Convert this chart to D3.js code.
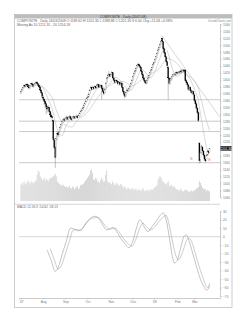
<!DOCTYPE html>
<html>
<head>
<meta charset="utf-8">
<script src="https://cdn.jsdelivr.net/npm/d3@7"></script>
<style>
body { margin: 0; background: #fff; }
svg text { font-family: "Liberation Sans", Arial, sans-serif; }
</style>
</head>
<body>
<svg id="chart" width="247" height="320"></svg>
<script>
// daily bars, 2 Jul 2007 .. 24 Mar 2008 (index = trading day)
var opens = [1360,1366,1371,1378,1384,1380,1387,1385,1379,1375,1382,1389,1386,1380,1386,1390,1393,1388,1384,1379,1370,1362,
  1350,1344,1338,1330,1322,1314,1320,1308,1298,1293,1282,1226,1205,1178,1228,1246,1238,1250,1262,1270,1278,1286,
  1282,1288,1292,1286,1290,1294,1288,1284,1290,1293,1289,1292,1295,1290,1296,1302,1308,1312,1318,1325,1330,1338,
  1345,1350,1358,1368,1378,1372,1378,1374,1380,1376,1384,1385,1378,1381,1383,1374,1366,1360,1372,1390,1405,1412,1414,
  1410,1416,1420,1405,1398,1392,1398,1395,1388,1392,1386,1390,1378,1366,1356,1352,1362,1370,1368,1374,1380,1388,
  1398,1408,1418,1425,1432,1440,1445,1440,1436,1425,1415,1405,1398,1392,1390,1398,1405,1412,1420,1428,1436,
  1445,1450,1458,1466,1476,1486,1494,1502,1520,1510,1490,1478,1466,1452,1436,1405,1390,1398,1404,1410,1414,1416,1414,
  1420,1418,1422,1420,1425,1422,1426,1428,1428,1398,1392,1385,1372,1378,1368,1362,1366,
  1356,1340,1330,1318,1305,1217,1170,1190,1205,1194,1182,1170,1166,1182,1194,1189.62];
var highs = [1370,1375,1380,1386,1387,1389,1390,1386,1381,1384,1391,1392,1388,1389,1393,1396,1395,1390,1386,1381,1372,1364,
  1356,1348,1340,1334,1325,1326,1322,1310,1304,1297,1284,1232,1210,1236,1252,1250,1252,1266,1274,1282,1290,1290,
  1292,1296,1294,1293,1298,1296,1290,1293,1297,1295,1295,1299,1297,1299,1305,1311,1316,1321,1328,1334,1342,1350,
  1354,1362,1372,1382,1380,1382,1381,1384,1382,1388,1390,1387,1385,1387,1385,1376,1368,1375,1393,1408,1416,1425,1418,
  1420,1425,1422,1408,1401,1402,1400,1397,1396,1394,1394,1392,1380,1368,1360,1366,1374,1373,1378,1384,1392,1402,
  1412,1421,1428,1436,1444,1449,1447,1442,1438,1427,1417,1408,1400,1396,1402,1408,1415,1423,1431,1439,1448,
  1454,1461,1469,1479,1490,1498,1506,1514,1524,1512,1493,1481,1469,1455,1440,1408,1402,1408,1414,1418,1420,1419,1424,
  1423,1426,1425,1429,1427,1430,1432,1430,1430,1402,1395,1388,1382,1380,1372,1370,1368,
  1360,1345,1336,1322,1308,1218,1192,1212,1208,1196,1186,1174,1185,1198,1196,1201.3];
var lows = [1358,1364,1369,1375,1377,1378,1381,1375,1372,1374,1380,1382,1377,1378,1384,1387,1385,1380,1375,1366,1358,1348,
  1338,1326,1318,1300,1305,1312,1302,1294,1288,1284,1224,1198,1145,1176,1224,1234,1236,1248,1258,1266,1275,1278,
  1280,1285,1282,1283,1288,1285,1280,1282,1288,1286,1287,1290,1287,1289,1294,1300,1305,1310,1316,1322,1328,1336,
  1342,1348,1356,1366,1368,1370,1370,1372,1372,1374,1380,1375,1376,1378,1343,1362,1355,1358,1370,1388,1402,1408,1406,
  1408,1413,1402,1395,1388,1390,1391,1384,1386,1382,1384,1374,1362,1352,1346,1350,1360,1364,1366,1372,1378,1386,
  1396,1406,1415,1422,1430,1437,1436,1432,1422,1411,1401,1394,1388,1386,1388,1396,1403,1410,1418,1426,1434,
  1443,1448,1456,1464,1474,1484,1492,1500,1508,1486,1474,1462,1448,1436,1342,1385,1386,1395,1400,1407,1410,1409,1412,
  1414,1416,1416,1418,1418,1420,1423,1420,1396,1388,1380,1368,1370,1364,1358,1360,1354,
  1336,1325,1314,1300,1278,1158,1160,1186,1190,1178,1165,1160,1164,1180,1185,1188.88];
var closes = [1366,1372,1378,1383,1380,1386,1384,1379,1376,1382,1388,1385,1380,1386,1390,1392,1388,1383,1379,1370,1362,1352,
  1345,1338,1330,1322,1315,1320,1308,1298,1292,1290,1228,1205,1175,1230,1245,1240,1248,1262,1270,1278,1285,1282,
  1288,1292,1286,1290,1294,1288,1284,1290,1293,1289,1292,1295,1290,1296,1302,1308,1312,1318,1325,1330,1338,1345,
  1350,1358,1368,1378,1372,1378,1374,1380,1376,1384,1385,1378,1381,1383,1374,1366,1360,1372,1390,1405,1412,1414,1410,
  1416,1420,1405,1398,1392,1398,1395,1388,1392,1386,1390,1378,1366,1358,1352,1362,1370,1368,1374,1380,1388,1398,
  1408,1418,1425,1432,1440,1445,1440,1436,1425,1415,1405,1398,1392,1390,1398,1405,1412,1420,1428,1436,1445,
  1450,1458,1466,1476,1486,1494,1502,1510,1512,1490,1478,1466,1452,1440,1405,1390,1398,1404,1410,1414,1416,1414,1420,
  1418,1422,1420,1425,1422,1426,1428,1424,1398,1392,1385,1372,1378,1368,1362,1366,1358,
  1340,1330,1318,1305,1282,1166,1188,1206,1194,1182,1170,1165,1182,1194,1189,1201.3];
var volumes = [100,110,95,120,105,100,115,125,110,100,120,115,105,110,125,118,
  160,185,175,150,140,
  125,130,140,120,135,128,118,132,140,138,
  145,150,155,165,150,
  120,110,105,98,92,100,95,90,85,88,
  80,85,92,78,75,88,82,70,78,85,90,72,80,95,100,
  100,105,115,125,130,140,150,160,
  185,190,170,132,128,140,135,120,118,110,125,140,130,115,120,160,185,
  120,110,115,105,100,118,108,95,100,110,102,90,96,105,98,
  85,80,90,75,70,82,78,72,68,74,80,66,70,76,62,68,72,60,64,70,78,66,58,62,70,64,60,68,72,66,
  72,80,85,90,95,
  130,145,150,140,125,115,110,
  105,98,110,120,95,90,100,88,85,92,
  78,72,70,66,62,75,68,60,58,64,70,62,66,58,55,60,64,58,
  60,65,70,75,80,85,
  120,110,95,
  80,75,70,72,60,68,62,58];

var monthIdx = [0, 22, 44, 66, 89, 111, 132, 155, 172];
var monthLabels = ["'07", "Aug", "Sep", "Oct", "Nov", "Dec", "'08", "Feb", "Mar"];
var priceTicks = [1560,1540,1520,1500,1480,1460,1440,1420,1400,1380,1360,1340,1320,1300,1280,1260,1240,1220,1200,1180,1160,1140,1120,1100,1080,1060];
var macdTicks = [30, 20, 10, 0, -10, -20, -30, -40, -50, -60, -70];
var supportLevels = [1342, 1280, 1250, 1160];
var trendFrom = [140, 1526], trendTo = [197.4, 1291];
var maPeriods = [10, 20];
var markIdx = [169, 187], markPrice = [1171, 1168];

// MACD and signal
var macdIdx = [26,30,34,37,41,45,49,53,57,61,65,69,73,78,82,85,88,91,95,99,103,107,111,115,118,122,126,130,134,138,141,144,147,150,152,155,158,162,164,167,170,174,178,182,184,186,187];
var macdVal = [-16,-28,-41,-36,-20,-5,10,9,7,10,17,22,24,20,12,8,9,11,6,-2,-8,-13,-5,12,20,12,6,12,18,25,28,20,0,-22,-31,-28,-15,1,2,-6,-18,-35,-50,-60,-63,-61,-55];
var signalIdx = [29,33,37,40,44,48,52,56,60,63,67,72,76,81,85,89,93,97,101,106,110,114,118,121,125,129,133,137,141,144,147,150,153,156,159,162,165,167,170,173,177,181,185,187];
var signalVal = [-14,-27,-38,-34,-20,-5,8,8,8,13,19,22,23,17,11,9,10,6,-1,-8,-11,-3,11,16,11,8,12,18,23,25,14,-4,-20,-27,-22,-12,-3,-2,-8,-20,-36,-50,-60,-58];

var bars = closes.map(function(c, i) {
    return {i: i, o: opens[i], h: highs[i], l: lows[i], c: c, v: volumes[i]};
});

var svg = d3.select("#chart"),
    left = 19, right = 220,
    frame = {x: 14.5, y: 14.5, w: 217.5, h: 293};

var x = d3.scaleLinear().domain([-2, 197.4]).range([left, right]),
    y = d3.scaleLinear().domain([1060, 1560]).range([197.3, 24.3]),
    yv = d3.scaleLinear().domain([0, 200]).range([201, 168]),
    ym = d3.scaleLinear().domain([-70, 30]).range([296.2, 211.2]);

svg.append("rect").attr("width", 247).attr("height", 320).attr("fill", "#fff");

// frame and title bar
svg.append("rect")
    .attr("x", frame.x).attr("y", frame.y).attr("width", frame.w).attr("height", frame.h)
    .attr("fill", "none").attr("stroke", "#aaa").attr("stroke-width", 0.6);
svg.append("rect")
    .attr("x", frame.x).attr("y", frame.y).attr("width", frame.w).attr("height", 4)
    .attr("fill", "#bdbdbd");
svg.append("text")
    .attr("x", 123).attr("y", 17.6).attr("text-anchor", "middle")
    .style("font-size", "3.4px").attr("fill", "#333")
    .text("COMPOSITE - Daily (2007-08)");

svg.append("text")
    .attr("x", 17).attr("y", 22.2).style("font-size", "3.4px").attr("fill", "#666")
    .text("COMPOSITE , Daily 24/03/2008  O:1189.62  H:1201.30  L:1188.88  C:1201.30  V:0.00  Chg:+11.68  +0.98%");
svg.append("text")
    .attr("x", 17).attr("y", 26).style("font-size", "3.4px").attr("fill", "#666")
    .text("Moving Av 10  1211.31 , 20  1254.18");
svg.append("text")
    .attr("x", 231).attr("y", 21.5).attr("text-anchor", "end")
    .style("font-size", "2.8px").attr("fill", "#888")
    .text("IncrediCharts.com");

// horizontal support lines
svg.selectAll(".support")
    .data(supportLevels)
    .enter().append("line")
    .attr("class", "support")
    .attr("x1", left).attr("x2", right)
    .attr("y1", function(d) { return y(d); })
    .attr("y2", function(d) { return y(d); })
    .attr("stroke", "#c4c4c4").attr("stroke-width", 0.9);

// volume
svg.selectAll(".vol")
    .data(bars)
    .enter().append("rect")
    .attr("class", "vol")
    .attr("x", function(d) { return x(d.i) - 0.45; })
    .attr("width", 0.9)
    .attr("y", function(d) { return yv(d.v); })
    .attr("height", function(d) { return yv(0) - yv(d.v); })
    .attr("fill", "#d4d4d4");

// moving averages
maPeriods.forEach(function(n) {
    var pts = bars.slice(n - 1).map(function(d) {
        return {i: d.i, m: d3.mean(closes.slice(d.i - n + 1, d.i + 1))};
    });
    svg.append("path")
        .datum(pts)
        .attr("fill", "none").attr("stroke", "#b0b0b0").attr("stroke-width", 0.5)
        .attr("d", d3.line().x(function(d) { return x(d.i); }).y(function(d) { return y(d.m); }));
});

// trend line from the January high
svg.append("line")
    .attr("x1", x(trendFrom[0])).attr("y1", y(trendFrom[1]))
    .attr("x2", x(trendTo[0])).attr("y2", y(trendTo[1]))
    .attr("stroke", "#b0b0b0").attr("stroke-width", 0.5);

// candles
var candle = svg.selectAll(".candle")
    .data(bars)
    .enter().append("g")
    .attr("class", "candle");

candle.append("line")
    .attr("x1", function(d) { return x(d.i); })
    .attr("x2", function(d) { return x(d.i); })
    .attr("y1", function(d) { return y(d.h); })
    .attr("y2", function(d) { return y(d.l); })
    .attr("stroke", "#555").attr("stroke-width", 0.35);

candle.append("rect")
    .attr("x", function(d) { return x(d.i) - 0.55; })
    .attr("width", 1.1)
    .attr("y", function(d) { return y(Math.max(d.o, d.c)); })
    .attr("height", function(d) { return Math.max(0.4, Math.abs(y(d.o) - y(d.c))); })
    .attr("fill", function(d) { return d.c < d.o ? "#000" : "#fff"; })
    .attr("stroke", function(d) { return d.c < d.o ? "#000" : "#666"; })
    .attr("stroke-width", 0.2);

// red markers
svg.selectAll(".mark")
    .data(markIdx)
    .enter().append("text")
    .attr("class", "mark")
    .attr("x", function(d) { return x(d); })
    .attr("y", function(d, k) { return y(markPrice[k]) + 1.5; })
    .attr("text-anchor", "middle")
    .style("font-size", "3.6px").attr("fill", "#f08080")
    .text("B");

// price axis (the 1200 label sits under the last-price box)
var last = bars[bars.length - 1];
var ax = svg.append("g")
    .attr("transform", "translate(" + right + ",0)")
    .call(d3.axisRight(y).tickValues(priceTicks).tickSize(1.5).tickPadding(1.5)
        .tickFormat(function(d) { return Math.abs(d - last.c) < 10 ? "" : d3.format("d")(d); }));
ax.select(".domain").attr("stroke", "#999").attr("stroke-width", 0.5);
ax.selectAll(".tick line").attr("stroke", "#999").attr("stroke-width", 0.4);
ax.selectAll("text").style("font-size", "3.2px").attr("fill", "#777").attr("font-family", null);

// last price box
svg.append("rect")
    .attr("x", right + 0.5).attr("y", y(last.c) - 2.2)
    .attr("width", 11).attr("height", 4.4).attr("fill", "#111");
svg.append("text")
    .attr("x", right + 6).attr("y", y(last.c) + 1.2).attr("text-anchor", "middle")
    .style("font-size", "3.2px").attr("fill", "#fff")
    .text(d3.format(".2f")(last.c));

// lower panel
svg.append("line")
    .attr("x1", frame.x).attr("x2", right)
    .attr("y1", 204.3).attr("y2", 204.3)
    .attr("stroke", "#bbb").attr("stroke-width", 0.6);
svg.append("text")
    .attr("x", 17).attr("y", 208.2).style("font-size", "3.2px").attr("fill", "#666")
    .text("MACD 12,26,9  -54.62  -58.13");

svg.append("line")
    .attr("x1", left).attr("x2", right)
    .attr("y1", ym(0)).attr("y2", ym(0))
    .attr("stroke", "#bbb").attr("stroke-width", 0.6);

var macdLine = d3.line()
    .x(function(d) { return x(d[0]); })
    .y(function(d) { return ym(d[1]); })
    .curve(d3.curveMonotoneX);

svg.append("path")
    .datum(d3.zip(signalIdx, signalVal))
    .attr("fill", "none").attr("stroke", "#999").attr("stroke-width", 0.5)
    .attr("d", macdLine);
svg.append("path")
    .datum(d3.zip(macdIdx, macdVal))
    .attr("fill", "none").attr("stroke", "#888").attr("stroke-width", 0.5)
    .attr("d", macdLine);

var am = svg.append("g")
    .attr("transform", "translate(" + right + ",0)")
    .call(d3.axisRight(ym).tickValues(macdTicks).tickSize(1.5).tickPadding(1.5));
am.select(".domain").attr("stroke", "#999").attr("stroke-width", 0.5);
am.selectAll(".tick line").attr("stroke", "#999").attr("stroke-width", 0.4);
am.selectAll("text").style("font-size", "3.2px").attr("fill", "#777").attr("font-family", null);

// time axis
var at = svg.append("g")
    .attr("transform", "translate(0,298)")
    .call(d3.axisBottom(x).tickValues(monthIdx).tickSize(1.5).tickPadding(1.5)
        .tickFormat(function(d, k) { return monthLabels[k]; }));
at.select(".domain").attr("stroke", "#999").attr("stroke-width", 0.5);
at.selectAll(".tick line").attr("stroke", "#999").attr("stroke-width", 0.4);
at.selectAll("text").style("font-size", "3.2px").attr("fill", "#777").attr("font-family", null);
</script>
</body>
</html>
